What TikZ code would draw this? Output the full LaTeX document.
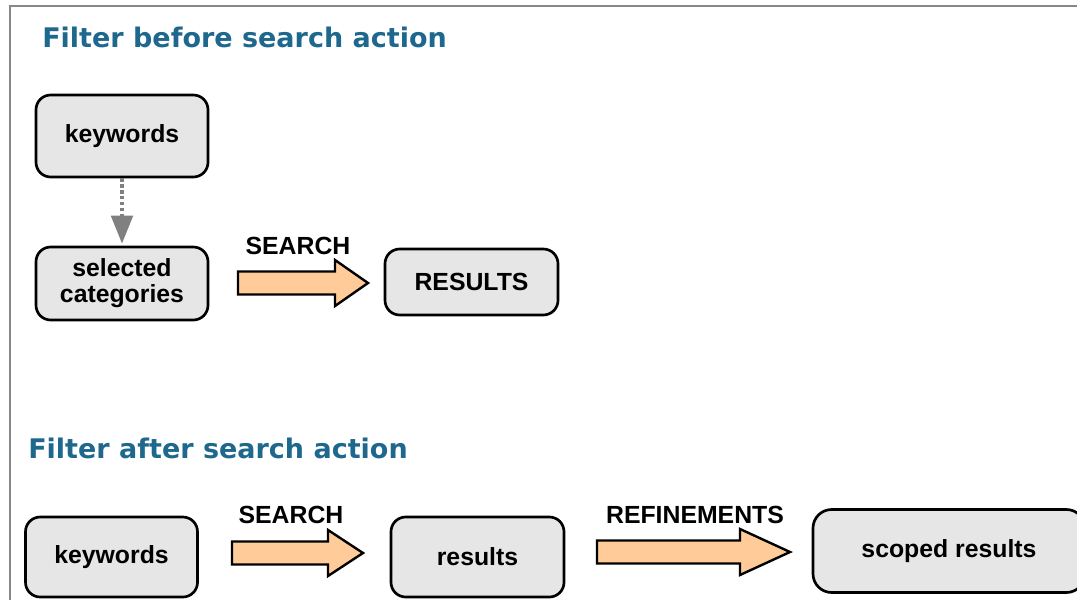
\documentclass[tikz,border=0pt]{standalone}
\usepackage{fontspec}
\setmainfont{Liberation Sans}
\newfontfamily\headfont{DejaVu Sans}
\usetikzlibrary{arrows.meta}

\definecolor{headblue}{RGB}{30,104,142}
\definecolor{boxgray}{RGB}{230,230,230}
\definecolor{peach}{RGB}{255,204,153}
\definecolor{framegray}{RGB}{136,136,136}
\definecolor{linkgray}{RGB}{128,128,128}

% block arrow: left x, head start x, tip x, centre y
\newcommand\blockarr[4]{%
  \draw[barrow] (#1,#4-11.5) -- (#2,#4-11.5) -- (#2,#4-23) -- (#3,#4)
    -- (#2,#4+23) -- (#2,#4+11.5) -- (#1,#4+11.5) -- cycle;}

\tikzset{
  box/.style={draw=black, line width=2pt, fill=boxgray, rounded corners=11pt,
    inner sep=0pt, align=center,
    font=\bfseries\fontsize{18.6}{19.5}\selectfont},
  barrow/.style={draw=black, line width=1.8pt, fill=peach, line join=miter},
  arrlabel/.style={inner sep=0pt, anchor=base, font=\bfseries\fontsize{18.6}{19.5}\selectfont},
  heading/.style={inner sep=0pt, anchor=base west, text=headblue,
    font=\headfont\bfseries\fontsize{20.25}{22}\selectfont},
  dotlink/.style={draw=linkgray, line width=3pt, dash pattern=on 2.6pt off 1.8pt,
    -{Triangle[width=16pt,length=21pt,fill=linkgray]}, shorten >=1.5pt}
}

\begin{document}
\begin{tikzpicture}[x=0.75pt, y=-0.75pt]
  \useasboundingbox (0,0) rectangle (1077,600);

  % frame
  \draw[framegray, line width=1pt] (10,600) -- (10,6) -- (1077,6);

  % headings
  \node[heading] (h1) at (42,47) {Filter before search action};
  \node[heading] (h2) at (28,458) {Filter after search action};

  % filter before search
  \node[box, minimum width=129pt, minimum height=61.5pt] (kw1) at (122,136) {keywords};
  \node[box, minimum width=129pt, minimum height=54.75pt] (cat) at (122,283.5) {selected\\categories};
  \node[box, minimum width=129.75pt, minimum height=49.5pt] (res1) at (471.5,282) {RESULTS};
  \draw[dotlink] (kw1.south) -- (cat.north);
  \blockarr{238}{335}{368}{283}
  \node[arrlabel] (s1) at (298,254) {SEARCH};

  % filter after search
  \node[box, minimum width=129pt, minimum height=60pt] (kw2) at (111.5,557) {keywords};
  \node[box, minimum width=129.75pt, minimum height=60pt] (res2) at (477.5,557) {results};
  \node[box, minimum width=204pt, minimum height=62.25pt, rounded corners=14pt] (scoped) at (949,551) {\raisebox{-2pt}{scoped results}};
  \blockarr{232}{328}{363}{553}
  \node[arrlabel] (s2) at (291,523) {SEARCH};
  \blockarr{597}{740}{790}{552}
  \node[arrlabel] (ref) at (695,523) {REFINEMENTS};
\end{tikzpicture}
\end{document}
